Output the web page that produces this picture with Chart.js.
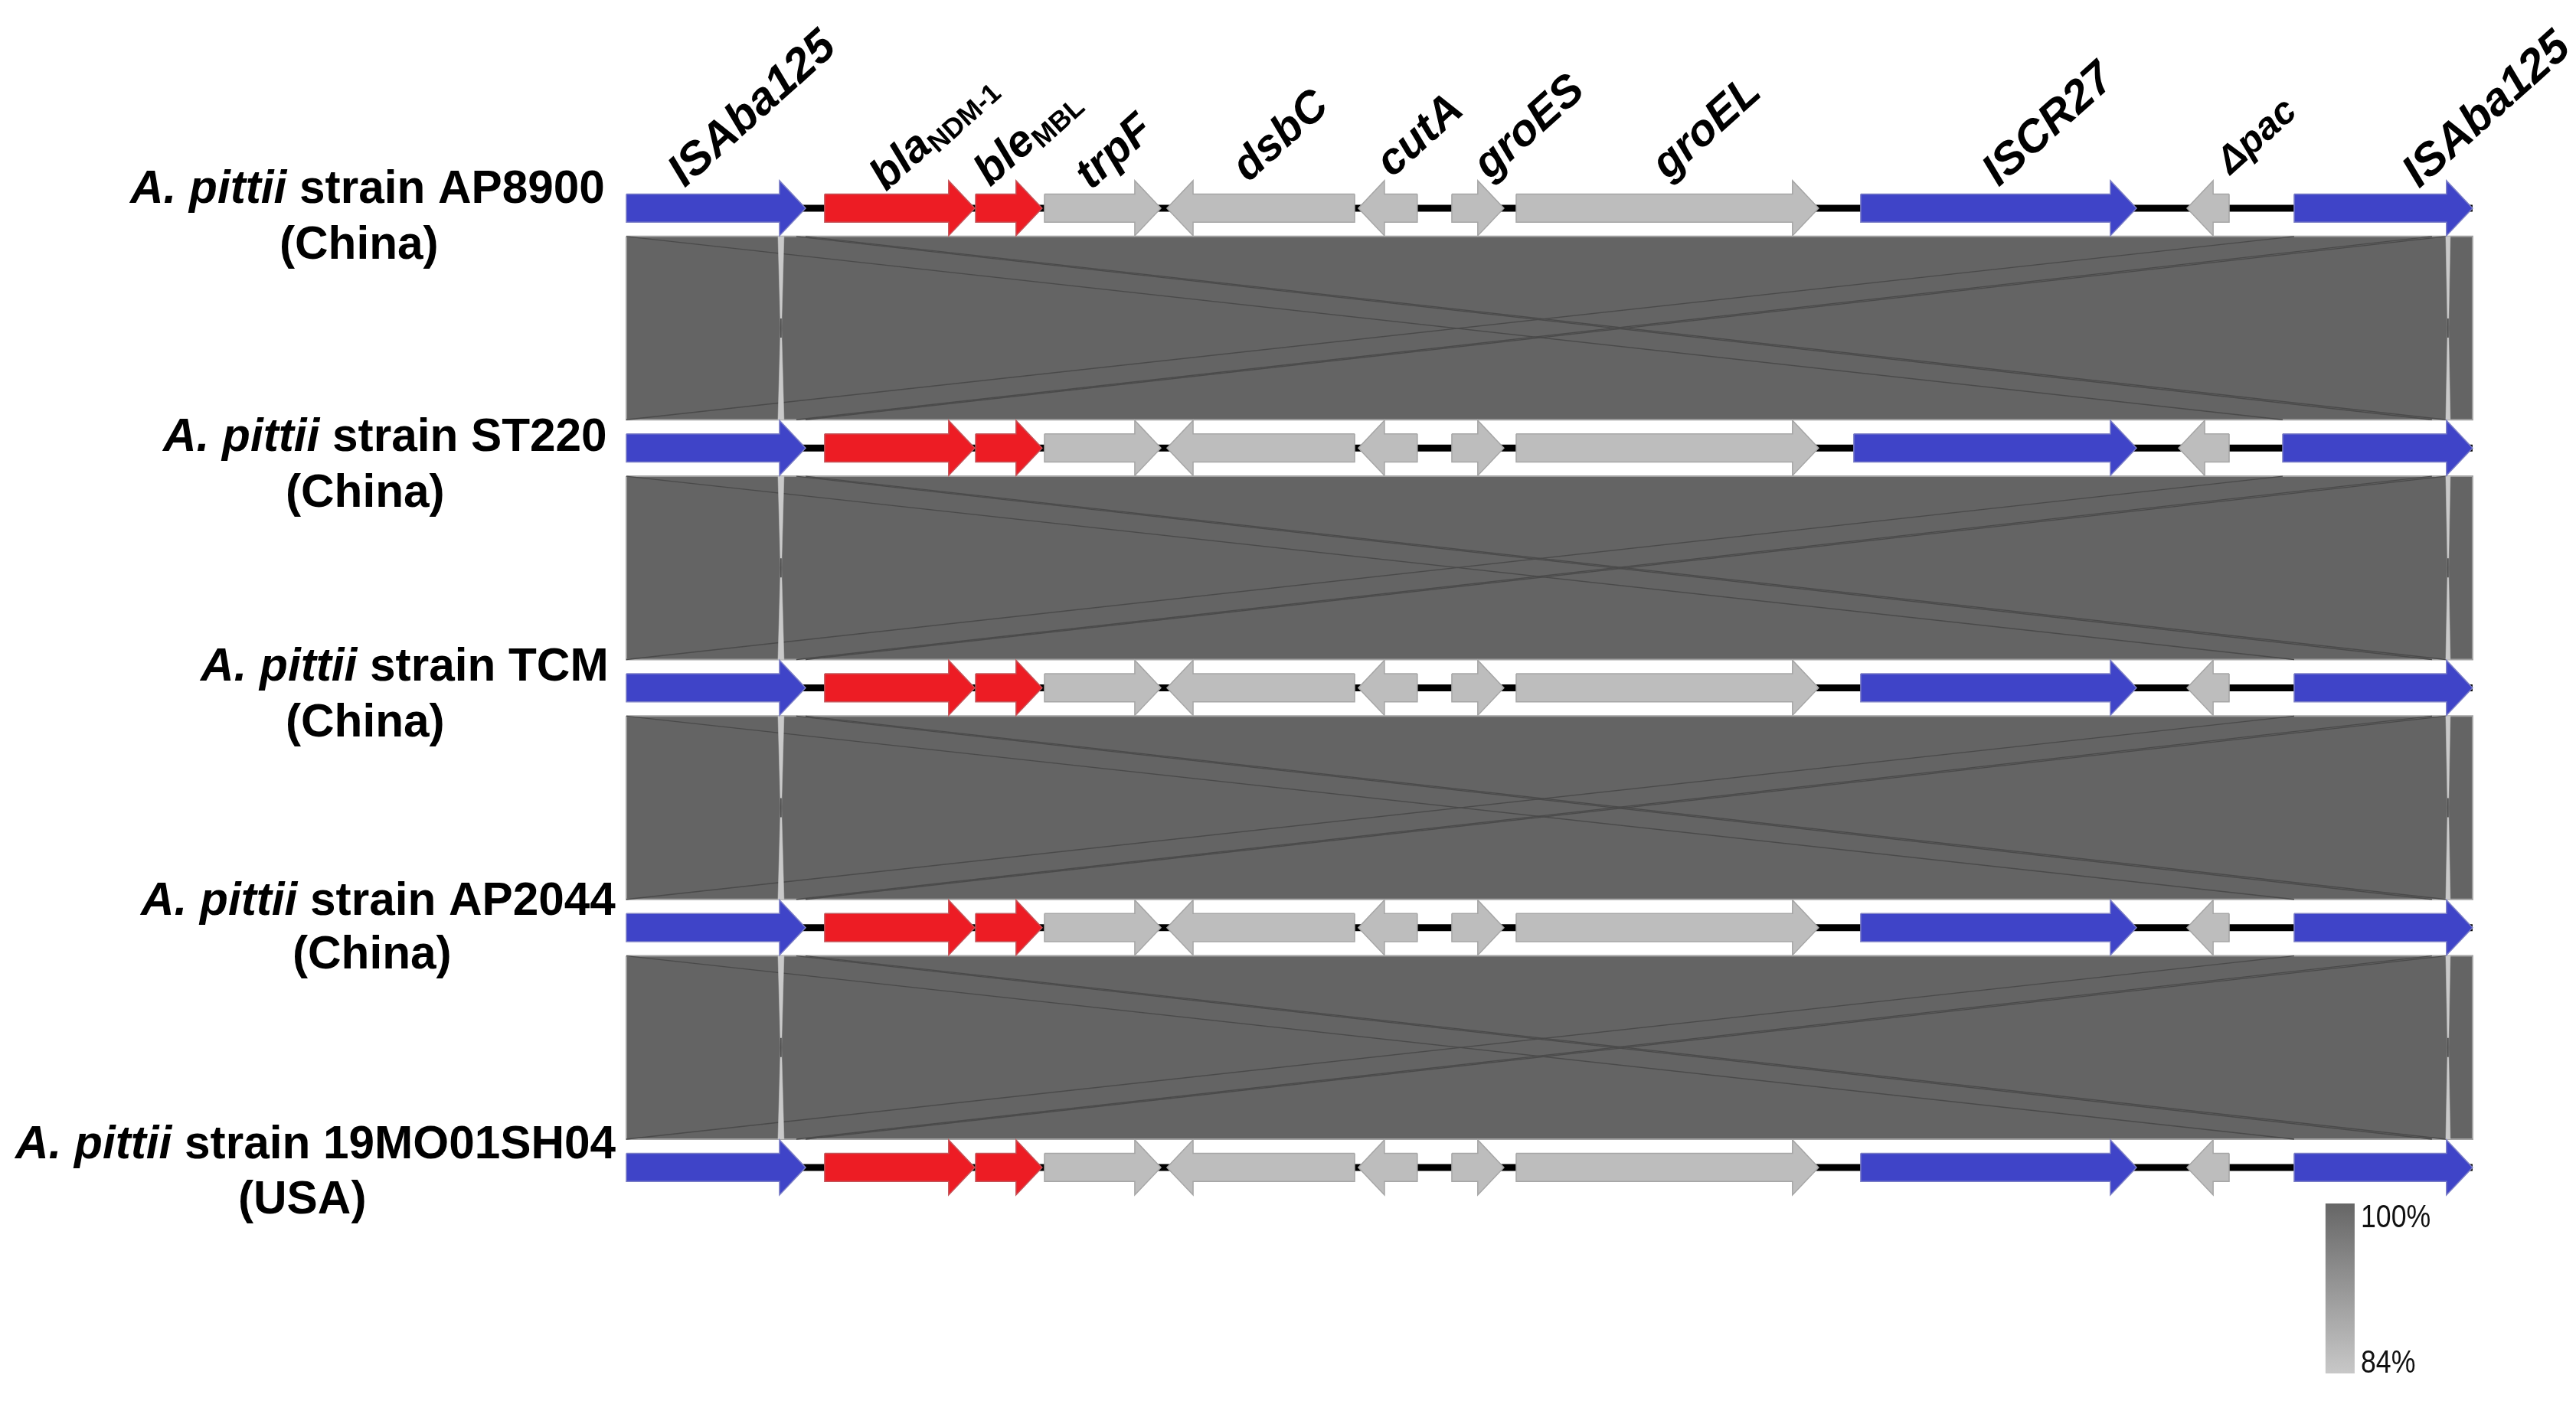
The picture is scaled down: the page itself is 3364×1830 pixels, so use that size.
<!DOCTYPE html>
<html>
<head>
<meta charset="utf-8">
<title>A. pittii blaNDM-1 region</title>
<script src="https://cdn.jsdelivr.net/npm/chart.js@4"></script>
<style>
  html, body { margin: 0; padding: 0; background: #fff; }
  canvas { display: block; }
</style>
</head>
<body>
<canvas id="myChart" width="3364" height="1830"></canvas>
<script>
// values are base pairs along the locus
const strains = ["AP8900", "ST220", "TCM", "AP2044", "19MO01SH04"];
const countries = ["China", "China", "China", "China", "USA"];
const geneNames = ["ISAba125", "blaNDM-1", "bleMBL", "trpF", "dsbC", "cutA", "groES", "groEL", "ISCR27", "Δpac", "ISAba125"];
const geneStrand = [1, 1, 1, 1, -1, -1, 1, 1, 1, -1, 1];
const geneKind = ["is", "res", "res", "other", "other", "other", "other", "other", "is", "other", "is"];

const commonStart = [0, 1177, 2073, 2482, 3209, 4345, 4900, 5282, 7327, 9264, 9900];
const commonEnd = [1064, 2068, 2468, 3173, 4323, 4695, 5209, 7077, 8964, 9514, 10959];
const st220Start = [0, 1177, 2073, 2482, 3209, 4345, 4900, 5282, 7286, 9214, 9832];
const st220End = [1064, 2068, 2468, 3173, 4323, 4695, 5209, 7077, 8964, 9514, 10959];

const strainStart = [commonStart, st220Start, commonStart, commonStart, commonStart];
const strainEnd = [commonEnd, st220End, commonEnd, commonEnd, commonEnd];

const identityLabels = ["100%", "84%"];

// gaps in the blast hits and the cross matches of the two IS copies
const gapLeft = [900, 936];
const gapRight = [10800, 10827];
const crossInner = [1009, 1064];
const crossOuter = [10718, 10800];

const colors = { is: "#3f44c8", res: "#ed1c24", other: "#bdbdbd" };
const edges = { is: "#7c7fc6", res: "#c4555a", other: "#a6a6a6" };
const ribbonColor = "#646464";
const crossColor = "#4a4a4a";

const headLen = 155;
const bodyHalf = 0.0585;
const headHalf = 0.115;
const ribbonPad = 0.118;
const keyX = [10086, 10259];
const keyY = [4.15, 4.859];
const xRange = [-3718, 11573];
const yRange = [-0.868, 4.974];

const canvas = document.getElementById("myChart");
const ctx = canvas.getContext("2d");

function arrow(from, to, strand, row) {
  let tip = strand > 0 ? to : from;
  let tail = strand > 0 ? from : to;
  let neck = tip - strand * headLen;
  return [
    { x: tail, y: row - bodyHalf },
    { x: neck, y: row - bodyHalf },
    { x: neck, y: row - headHalf },
    { x: tip, y: row },
    { x: neck, y: row + headHalf },
    { x: neck, y: row + bodyHalf },
    { x: tail, y: row + bodyHalf },
    { x: tail, y: row - bodyHalf },
  ];
}

function shape(points, fill, edge, width) {
  return {
    data: points,
    showLine: true,
    fill: "shape",
    backgroundColor: fill,
    borderColor: edge,
    borderWidth: width,
    borderJoinStyle: "miter",
    pointRadius: 0,
    tension: 0,
  };
}

function line(points, color, width) {
  return {
    data: points,
    showLine: true,
    fill: false,
    borderColor: color,
    borderWidth: width,
    pointRadius: 0,
    tension: 0,
  };
}

let datasets = [];

// ribbons between neighbouring strains
for (let r = 0; r < strains.length - 1; r++) {
  let top = r + ribbonPad;
  let bottom = r + 1 - ribbonPad;
  let mid = r + 0.5;
  let upper = strainStart[r][10];
  let lower = strainStart[r + 1][10];
  datasets.push(shape([
    { x: 0, y: top }, { x: 10959, y: top }, { x: 10959, y: bottom }, { x: 0, y: bottom }, { x: 0, y: top },
  ], ribbonColor, "#a2a2a2", 2));
  datasets.push(line([{ x: 0, y: top }, { x: lower, y: bottom }], crossColor, 1.4));
  datasets.push(line([{ x: 0, y: bottom }, { x: upper, y: top }], crossColor, 1.4));
  crossInner.forEach((inner, i) => {
    datasets.push(line([{ x: inner, y: top }, { x: crossOuter[i], y: bottom }], crossColor, 1.4));
    datasets.push(line([{ x: inner, y: bottom }, { x: crossOuter[i], y: top }], crossColor, 1.4));
  });
  [gapLeft, gapRight].forEach((gap) => {
    let c = (gap[0] + gap[1]) / 2;
    datasets.push(shape([
      { x: gap[0], y: top }, { x: gap[1], y: top }, { x: c + 3, y: mid }, { x: gap[1], y: bottom },
      { x: gap[0], y: bottom }, { x: c - 3, y: mid }, { x: gap[0], y: top },
    ], "#c9c9c9", "#c9c9c9", 0.5));
    datasets.push(line([{ x: c, y: mid - 0.04 }, { x: c, y: mid + 0.04 }], "#3a3a3a", 1.5));
  });
}

// gene tracks
strains.forEach((name, r) => {
  datasets.push(line([{ x: 0, y: r }, { x: 10959, y: r }], "#000000", 9));
  geneNames.forEach((gene, g) => {
    let k = geneKind[g];
    datasets.push(shape(arrow(strainStart[r][g], strainEnd[r][g], geneStrand[g], r), colors[k], edges[k], 1.5));
  });
});

// identity key
function yToCanvas(v) {
  return ((v - yRange[0]) / (yRange[1] - yRange[0])) * canvas.height;
}
let keyFill = ctx.createLinearGradient(0, yToCanvas(keyY[0]), 0, yToCanvas(keyY[1]));
keyFill.addColorStop(0, "#666666");
keyFill.addColorStop(1, "#c8c8c8");
datasets.push(shape([
  { x: keyX[0], y: keyY[0] }, { x: keyX[1], y: keyY[0] }, { x: keyX[1], y: keyY[1] },
  { x: keyX[0], y: keyY[1] }, { x: keyX[0], y: keyY[0] },
], keyFill, "rgba(0,0,0,0)", 0));

// first painted gets the highest order
datasets.forEach((d, i) => { d.order = datasets.length - i; });

const sans = '"Liberation Sans", Arial, sans-serif';

// label placement on the page
const strainLabels = [
  { x: 170, y: 265, cx: 365, cy: 338 },
  { x: 213, y: 589, cx: 373, cy: 662 },
  { x: 262, y: 889, cx: 373, cy: 962 },
  { x: 184, y: 1195, cx: 382, cy: 1265 },
  { x: 20, y: 1513, cx: 311, cy: 1585 },
];
const geneLabels = [
  { x: 894, y: 246, text: "ISAba125", size: 60 },
  { x: 1157, y: 251, text: "bla", sub: "NDM-1", size: 58 },
  { x: 1293, y: 245, text: "ble", sub: "MBL", size: 58 },
  { x: 1425, y: 249, text: "trpF", size: 58 },
  { x: 1630, y: 239, text: "dsbC", size: 58 },
  { x: 1818, y: 233, text: "cutA", size: 58 },
  { x: 1945, y: 236, text: "groES", size: 58 },
  { x: 2178, y: 236, text: "groEL", size: 58 },
  { x: 2610, y: 245, text: "ISCR27", size: 59 },
  { x: 2913, y: 229, text: "Δpac", size: 50 },
  { x: 3159, y: 247, text: "ISAba125", size: 60 },
];

const labelPlugin = {
  id: "labels",
  afterDraw(chart) {
    let ctx = chart.ctx;
    ctx.save();
    ctx.textBaseline = "alphabetic";
    ctx.textAlign = "left";
    ctx.fillStyle = "#000";

    strains.forEach((name, r) => {
      let p = strainLabels[r];
      ctx.font = `italic bold 60.3px ${sans}`;
      ctx.fillText("A. pittii", p.x, p.y);
      let w = ctx.measureText("A. pittii").width;
      ctx.font = `bold 60.3px ${sans}`;
      ctx.fillText(` strain ${name}`, p.x + w, p.y);
      ctx.fillText(`(${countries[r]})`, p.cx, p.cy);
    });

    geneLabels.forEach((l) => {
      ctx.save();
      ctx.translate(l.x, l.y);
      ctx.rotate(-42 * Math.PI / 180);
      ctx.font = `italic bold ${l.size}px ${sans}`;
      ctx.fillText(l.text, 0, 0);
      if (l.sub) {
        let w = ctx.measureText(l.text).width;
        ctx.font = `bold 36px ${sans}`;
        ctx.fillText(l.sub, w, 8);
      }
      ctx.restore();
    });

    // key labels are narrower than the plain font
    ctx.font = `42px ${sans}`;
    ctx.fillStyle = "#111";
    [[identityLabels[0], 1603], [identityLabels[1], 1793]].forEach(([text, y]) => {
      ctx.save();
      ctx.translate(3083, y);
      ctx.scale(0.85, 1);
      ctx.fillText(text, 0, 0);
      ctx.restore();
    });
    ctx.restore();
  },
};

new Chart(ctx, {
  type: "scatter",
  data: { datasets: datasets },
  plugins: [labelPlugin],
  options: {
    responsive: false,
    devicePixelRatio: 1,
    animation: false,
    layout: { padding: 0 },
    plugins: { legend: { display: false }, tooltip: { enabled: false } },
    scales: {
      x: { type: "linear", display: false, min: xRange[0], max: xRange[1] },
      y: { type: "linear", display: false, reverse: true, min: yRange[0], max: yRange[1] },
    },
  },
});
</script>
</body>
</html>
